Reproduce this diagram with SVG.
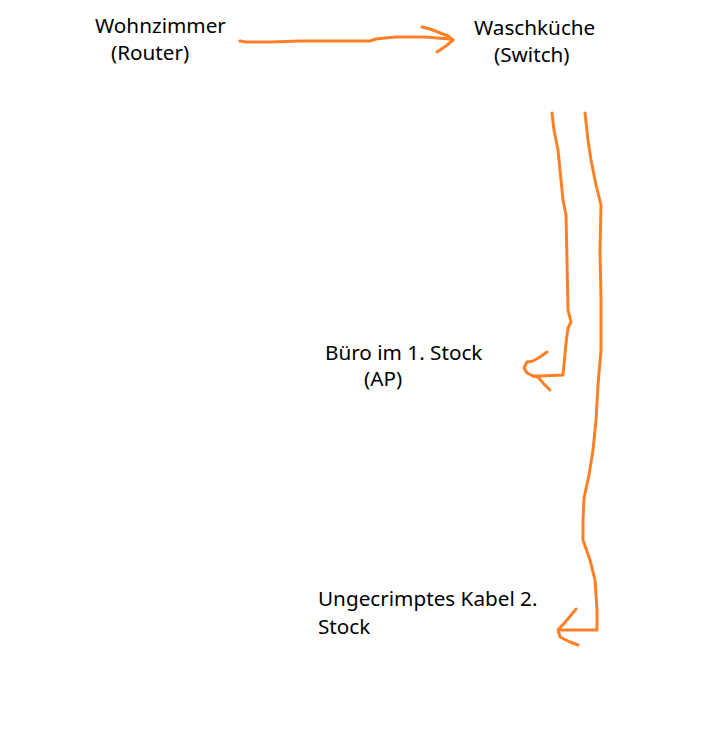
<svg xmlns="http://www.w3.org/2000/svg" width="706" height="746" viewBox="0 0 706 746">
<style>
text{font-family:"Noto Sans","Open Sans",sans-serif;font-size:20.7px;fill:#000}
.c{fill:none;stroke:#ff7f27;stroke-width:3;stroke-linecap:round;stroke-linejoin:round}
</style>
<rect width="706" height="746" fill="#fff"/>
<g id="wohnzimmer"><text x="95" y="33">Wohnzimmer</text><text x="111" y="60">(Router)</text></g>
<g id="waschkueche"><text x="474" y="35">Waschküche</text><text x="494" y="62">(Switch)</text></g>
<g id="buero"><text x="325" y="360">Büro im 1. Stock</text><text x="364" y="386">(AP)</text></g>
<g id="kabel"><text x="318" y="606">Ungecrimptes Kabel 2.</text><text x="318" y="634">Stock</text></g>
<g id="connectors">
<path class="c" d="M240,41 L246,42 L270,42 L300,41 L330,41 L370,41 L376,39 L395,37 L425,37 L450,39 L453,40"/>
<path class="c" d="M422,27 L430,29 L448,36 L453,40 L446,46 L437,52"/>
<path class="c" d="M552,113 L554,130 L558,150 L561,180 L563,200 L566,215 L567,260 L568,310 L571,322 L568,328 L566,343 L564,365 L563,375 L540,376 L533,376"/>
<path class="c" d="M547,352 L540,357 L533,361 L527,362 L524,368 L527,373 L533,376 L538,377 L543,383 L550,390"/>
<path class="c" d="M585,113 L588,140 L591,160 L596,185 L601,205 L600,250 L601,300 L601,350 L598,385 L596,420 L593,450 L589,475 L584,498 L583,520 L583,540 L590,560 L595,580 L597,610 L597,630 L570,630 L560,630"/>
<path class="c" d="M576,609 L567,620 L558,630 L560,637 L570,642 L578,645"/>
</g>
</svg>
